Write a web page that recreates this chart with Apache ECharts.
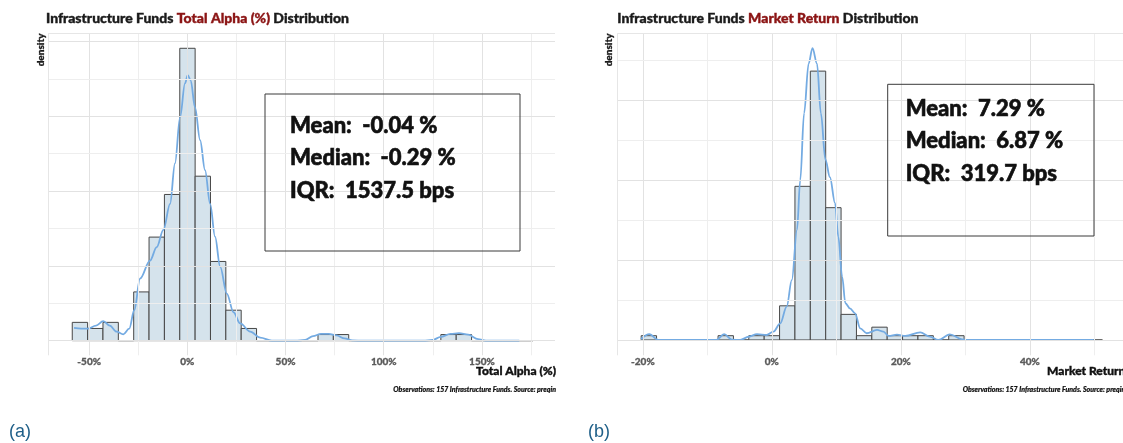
<!DOCTYPE html>
<html><head><meta charset="utf-8">
<script src="https://cdn.jsdelivr.net/npm/echarts@6/dist/echarts.min.js"></script>
<style>html,body{margin:0;padding:0;background:#fff}#c{width:1123px;height:443px}</style>
</head><body><div id="c"></div>
<script>
// ---------- data ----------
const N_OBS = 157;

// Panel (a): Total Alpha (%)
const alphaBinStart = -58.6;
const alphaBinWidth = 7.82;
const alphaCounts = [3,2,3,0,8,17,24,48,27,13, 5,2,0,0,0,0,1,1,0,0, 0,0,0,0,1,1,0,0,0,0];
const alphaKdeX = [-57.7,-54,-50.8,-46.5,-42.8,-39.5,-36,-32.6,-29.6,-27,-24.1,-19,-15.6,-12.2,-8.8,-6.3,-3.7,-1.2,0.2,1.7,3.9,6.5,9,11.6,14.1,16.7,20.1,23.5,26.9,32,37.1,43,55,60,64,68,72,76,80,84,90,120,125,129,134,138.3,143,148,152,169];
const alphaKdeY = [0.17,0.16,0.16,0.2,0.26,0.2,0.12,0.085,0.16,0.41,0.83,1.07,1.25,1.48,1.83,2.37,2.99,3.44,3.55,3.48,3.12,2.68,2.28,1.83,1.39,0.99,0.63,0.38,0.23,0.12,0.04,0,0,0.01,0.06,0.09,0.09,0.07,0.03,0.003,0,0,0.01,0.05,0.09,0.10,0.08,0.02,0,0];
const alphaTickLabels = [-50,0,50,100,150];
const alphaGridX = [-50,-25,0,25,50,75,100,125,150,175];
const alphaGridY = [0,0.5,1,1.5,2,2.5,3,3.5,4];
const alphaStats = ['Mean:  -0.04 %','Median:  -0.29 %','IQR:  1537.5 bps'];

// Panel (b): Market Return
const mktBinStart = -20.26;
const mktBinWidth = 2.384;
const mktCounts = [1,0,0,0,0,1,0,1,1,8, 36,63,31,6,1,3,1,1,1,0, 1,0,0,0,0,0,0,0,0,0];
const mktKdeX = [-20.3,-19,-17.6,-8.6,-7.4,-6.2,-4.9,-3.6,-2.3,-0.8,0.25,1.3,2.3,3.1,3.9,4.4,5,5.7,6.3,7,7.6,8.3,9,9.8,10.3,10.9,11.4,12.1,12.9,13.7,14.7,16.3,17.3,18.1,19.4,20.7,23,24.5,25.8,27.6,29.5,30.2,49.9];
const mktKdeY = [0.05,0.36,0,0,0.36,0.02,0,0.2,0.37,0.31,0.52,1.04,2.09,3.76,6.89,10,14.2,17.3,18.27,17.3,14.2,11.3,10.2,8.56,6.47,3.96,2.3,1.98,1.67,0.73,0.42,0.63,0.52,0.25,0.33,0.25,0.48,0.21,0,0.35,0.04,0,0];
const mktTickLabels = [-20,0,20,40];
const mktGridX = [-20,-10,0,10,20,30,40,50];
const mktGridY = [0,2.5,5,7.5,10,12.5,15,17.5];
const mktStats = ['Mean:  7.29 %','Median:  6.87 %','IQR:  319.7 bps'];

// ---------- helpers ----------
const FONT = 'Lato, "Noto Sans", sans-serif';
function histRows(start, width, counts) {
  return counts.map((c, i) => [start + i * width, start + (i + 1) * width, c / (N_OBS * width / 100)]);
}
function renderBin(params, api) {
  const p0 = api.coord([api.value(0), 0]);
  const p1 = api.coord([api.value(1), api.value(2)]);
  return {
    type: 'rect',
    shape: { x: p0[0], y: p1[1], width: p1[0] - p0[0], height: p0[1] - p1[1] },
    style: { fill: '#d5e3ec', stroke: '#474747', lineWidth: 1 }
  };
}
function gridLines(gx, gy, majorX, majorY) {
  const d = [];
  gx.forEach(v => d.push({ xAxis: v, lineStyle: { type: 'solid', color: (v % majorX === 0) ? '#e2e2e2' : '#eeeeee', width: 1 } }));
  gy.forEach(v => d.push({ yAxis: v, lineStyle: { type: 'solid', color: (v % majorY === 0) ? '#e2e2e2' : '#eeeeee', width: 1 } }));
  return d;
}
function xAxisCfg(idx, min, max, ticks) {
  return {
    type: 'value', gridIndex: idx, min: min, max: max,
    axisLine: { show: false }, axisTick: { show: false }, splitLine: { show: false },
    axisLabel: { customValues: ticks, formatter: '{value}%', color: '#5a5a5a', fontFamily: FONT, fontWeight: 900, fontSize: 10, margin: 1,
      textBorderColor: '#5a5a5a', textBorderWidth: 0.3 }
  };
}
function yAxisCfg(idx, min, max) {
  return { type: 'value', gridIndex: idx, min: min, max: max, axisLine: { show: false }, axisTick: { show: false }, axisLabel: { show: false }, splitLine: { show: false } };
}
function panelSeries(idx, binStart, binWidth, counts, kx, ky, gx, gy, majorX, majorY, xmin, ymax) {
  return [
    { type: 'line', xAxisIndex: idx, yAxisIndex: idx, data: [], z: 0, silent: true,
      markLine: { silent: true, symbol: ['none', 'none'], label: { show: false }, animation: false,
        lineStyle: { type: 'solid' },
        data: gridLines(gx, gy, majorX, majorY).concat([
          { xAxis: xmin, lineStyle: { type: 'solid', color: '#e6e6e6', width: 1 } },
          { yAxis: ymax, lineStyle: { type: 'solid', color: '#e6e6e6', width: 1 } }
        ]) } },
    { type: 'custom', xAxisIndex: idx, yAxisIndex: idx, z: 2, renderItem: renderBin,
      encode: { x: [0, 1], y: 2 }, data: histRows(binStart, binWidth, counts) },
    { type: 'line', xAxisIndex: idx, yAxisIndex: idx, z: 3, showSymbol: false, smooth: 0.35, smoothMonotone: 'x',
      lineStyle: { color: '#74abe2', width: 1.8 }, data: kx.map((x, i) => [x, ky[i]]) }
  ];
}
function statBox(x, y, w, h, tx, ty, lines) {
  const els = [{ type: 'rect', shape: { x: x, y: y, width: w, height: h }, style: { fill: 'none', stroke: '#3a3a3a', lineWidth: 1 }, z: 10 }];
  lines.forEach((t, i) => els.push({ type: 'text', x: tx, y: ty + i * 32.5, z: 10,
    style: { text: t, font: '900 22px ' + FONT, fill: '#111', stroke: '#111', lineWidth: 0.6, textAlign: 'left', textVerticalAlign: 'middle' } }));
  return els;
}
function titleText(x, mid) {
  return { type: 'text', x: x, y: 18.5, z: 10, style: {
    text: '{k|Infrastructure Funds} {r|' + mid + '} {k|Distribution}', textVerticalAlign: 'middle',
    rich: { k: { font: '900 14px ' + FONT, fill: '#1a1a1a', stroke: '#1a1a1a', lineWidth: 0.4 },
            r: { font: '900 14px ' + FONT, fill: '#8b1414', stroke: '#8b1414', lineWidth: 0.4 } },
    font: '900 14px ' + FONT } };
}
function plainText(x, y, t, font, fill, align, rot, sw) {
  const st = { text: t, font: font, fill: fill, textAlign: align, textVerticalAlign: 'middle' };
  if (sw) { st.stroke = fill; st.lineWidth = sw; }
  return { type: 'text', x: x, y: y, rotation: rot || 0, z: 10, style: st };
}

// ---------- chart ----------
const chart = echarts.init(document.getElementById('c'));
const option = {
  animation: false,
  backgroundColor: '#ffffff',
  grid: [
    { left: 48.3, top: 33.3, width: 506.7, height: 322, containLabel: false, outerBoundsMode: 'none' },
    { left: 617.7, top: 33.3, width: 507.6, height: 322, containLabel: false, outerBoundsMode: 'none' }
  ],
  xAxis: [ xAxisCfg(0, -70.8, 187.2, alphaTickLabels), xAxisCfg(1, -23.9, 54.8, mktTickLabels) ],
  yAxis: [ yAxisCfg(0, -0.196, 4.11), yAxisCfg(1, -0.96, 19.2) ],
  series: [].concat(
    panelSeries(0, alphaBinStart, alphaBinWidth, alphaCounts, alphaKdeX, alphaKdeY, alphaGridX, alphaGridY, 50, 1, -70.8, 4.11),
    panelSeries(1, mktBinStart, mktBinWidth, mktCounts, mktKdeX, mktKdeY, mktGridX, mktGridY, 20, 5, -23.9, 19.2)
  ),
  graphic: { elements: [].concat(
    [titleText(46, 'Total Alpha (%)'), titleText(617.3, 'Market Return')],
    [plainText(40.5, 33.5, 'density', '900 10px ' + FONT, '#1a1a1a', 'right', Math.PI / 2, 0.3),
     plainText(608.5, 33.5, 'density', '900 10px ' + FONT, '#1a1a1a', 'right', Math.PI / 2, 0.3)],
    statBox(265, 94, 255, 157, 290, 125.5, alphaStats),
    statBox(887.7, 84.3, 206.3, 151.7, 905.7, 108.9, mktStats),
    [plainText(556, 371, 'Total Alpha (%)', '900 12px ' + FONT, '#111', 'right', 0, 0.4),
     plainText(1125.3, 371, 'Market Return', '900 12px ' + FONT, '#111', 'right', 0, 0.4),
     plainText(556, 389.5, 'Observations: 157 Infrastructure Funds. Source: preqin', 'italic 900 7px ' + FONT, '#111', 'right', 0, 0.2),
     plainText(1125.3, 389.5, 'Observations: 157 Infrastructure Funds. Source: preqin', 'italic 900 7px ' + FONT, '#111', 'right', 0, 0.2),
     plainText(9, 432, '(a)', '18px "Liberation Sans", Arial, sans-serif', '#1f5f88', 'left'),
     plainText(588, 432, '(b)', '18px "Liberation Sans", Arial, sans-serif', '#1f5f88', 'left')]
  ) }
};
chart.setOption(option);
</script>
</body></html>
